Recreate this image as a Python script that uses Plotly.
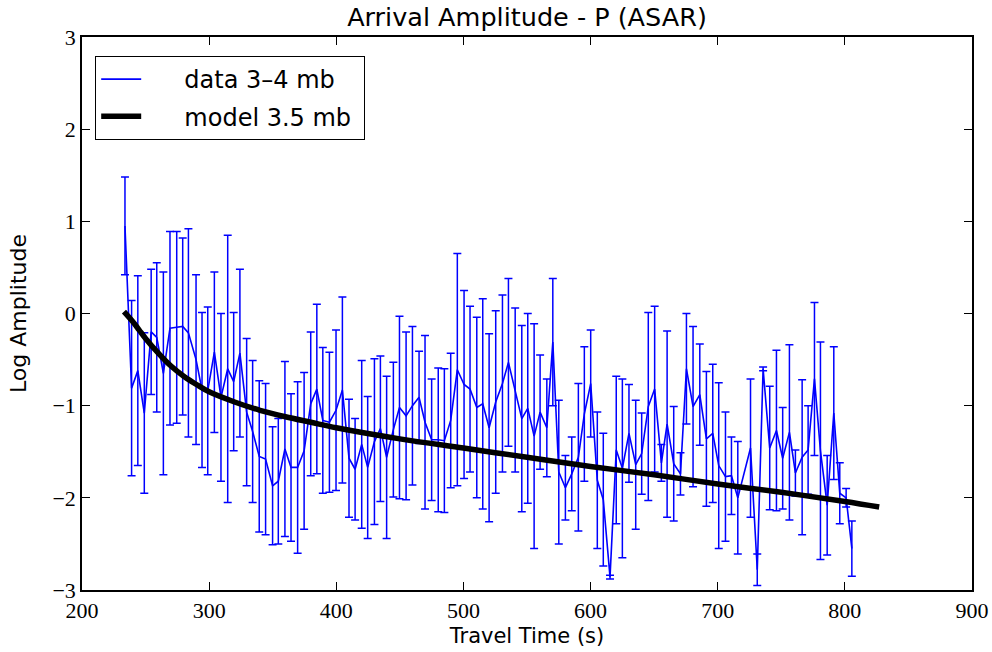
import plotly.graph_objects as go

# Travel time bins (s)
travel_time = [233.8, 239.0, 243.9, 249.0, 254.4, 258.8, 264.0, 269.2, 274.5, 279.2,
               283.7, 289.7, 294.4, 298.9, 304.1, 309.3, 314.6, 319.3, 324.2, 329.5,
               334.2, 339.4, 344.4, 349.9, 354.4, 359.6, 364.4, 369.6, 374.7, 379.9,
               384.7, 389.4, 394.6, 399.8, 404.8, 410.0, 414.8, 420.0, 424.7, 430.0,
               434.7, 439.6, 444.9, 449.7, 454.9, 459.9, 465.1, 469.8, 475.0, 480.2,
               485.0, 490.0, 495.2, 500.5, 505.2, 510.5, 515.2, 520.2, 525.4, 530.7,
               535.4, 540.7, 545.9, 550.6, 555.6, 560.3, 565.6, 570.3, 575.0, 580.2,
               585.2, 590.4, 595.1, 600.1, 605.3, 610.0, 615.3, 620.2, 625.0, 630.2,
               635.5, 640.2, 645.4, 650.4, 655.7, 660.2, 665.4, 670.7, 675.4, 680.6,
               685.9, 691.1, 696.1, 700.8, 706.1, 710.8, 715.8, 725.8, 731.1, 735.7,
               740.9, 746.2, 751.1, 756.4, 761.1, 766.4, 771.1, 776.1, 780.8, 786.1,
               791.3, 796.0, 801.0, 805.5]

# Mean log amplitude per bin
log_amp = [0.95, -0.81, -0.62, -1.08, -0.20, -0.26, -0.65, -0.16, -0.15, -0.14,
           -0.21, -0.50, -0.83, -0.84, -0.42, -0.91, -0.60, -0.74, -0.43, -1.07,
           -1.28, -1.55, -1.58, -1.87, -1.82, -1.47, -1.67, -1.67, -1.49, -0.98,
           -0.82, -1.16, -1.18, -1.05, -0.83, -1.57, -1.69, -1.42, -1.67, -1.39,
           -1.25, -1.56, -1.26, -1.02, -1.11, -1.00, -0.91, -1.18, -1.37, -1.37,
           -1.38, -1.16, -0.61, -0.77, -0.82, -1.02, -0.98, -1.24, -0.96, -0.76,
           -0.53, -0.83, -1.14, -1.03, -1.33, -1.07, -1.24, -0.31, -1.72, -1.89,
           -1.74, -1.56, -1.09, -0.76, -1.81, -2.02, -2.86, -1.48, -1.68, -1.30,
           -1.64, -1.52, -1.01, -0.82, -1.62, -1.20, -1.63, -1.74, -0.60, -1.01,
           -0.88, -1.36, -1.30, -1.65, -1.77, -1.76, -2.00, -1.46, -2.78, -0.60,
           -1.46, -1.27, -1.57, -1.29, -1.73, -1.56, -1.48, -0.71, -1.49, -2.08,
           -1.08, -1.95, -2.00, -2.55]

# Standard deviation per bin
log_amp_err = [0.53, 0.95, 1.03, 0.87, 0.68, 0.81, 1.10, 1.05, 1.04, 0.96,
               1.13, 0.92, 0.84, 0.91, 0.87, 0.91, 1.45, 0.75, 0.91, 0.80,
               0.77, 0.82, 0.82, 0.64, 0.68, 0.95, 0.80, 0.93, 0.85, 0.78,
               0.92, 0.79, 0.76, 0.87, 1.01, 0.64, 0.55, 0.91, 0.77, 0.90,
               0.79, 0.88, 0.73, 0.99, 0.91, 0.86, 0.50, 0.94, 0.66, 0.78,
               0.78, 0.73, 1.26, 1.02, 0.90, 0.98, 1.14, 1.02, 0.99, 0.96,
               0.91, 0.89, 1.01, 1.03, 1.22, 0.62, 0.53, 0.69, 0.78, 0.35,
               0.40, 0.80, 0.73, 0.58, 0.74, 0.72, 0.02, 0.80, 0.97, 0.53,
               0.70, 0.44, 1.02, 0.90, 0.20, 1.01, 0.62, 0.23, 0.60, 0.87,
               0.55, 0.73, 0.75, 0.90, 0.70, 0.42, 0.61, 0.75, 0.17, 0.02,
               0.67, 0.87, 0.55, 0.95, 0.25, 0.84, 0.48, 0.83, 1.18, 0.54,
               0.72, 0.33, 0.10, 0.30]

# Model curve (3.5 mb)
model_time = [233, 240, 245, 250, 260, 270, 280, 290, 300, 320, 340, 360, 380, 400,
              450, 500, 550, 600, 650, 700, 750, 800, 827]
model_amp = [0.02, -0.09, -0.18, -0.27, -0.43, -0.57, -0.68, -0.77, -0.85, -0.96,
             -1.05, -1.12, -1.18, -1.24, -1.36, -1.46, -1.56, -1.66, -1.75, -1.85,
             -1.94, -2.04, -2.10]

x_ticks = [200, 300, 400, 500, 600, 700, 800, 900]
y_ticks = [-3, -2, -1, 0, 1, 2, 3]

BLUE = "#0000ff"
SANS = "DejaVu Sans"
SERIF = "Liberation Serif"
PAD = "\u00a0" * 5

fig = go.Figure()
fig.add_trace(go.Scatter(
    x=travel_time, y=log_amp, mode="lines", name=PAD + "data 3\u20134 mb",
    line=dict(color=BLUE, width=1.6),
    error_y=dict(type="data", array=log_amp_err, symmetric=True,
                 color=BLUE, thickness=1.5, width=4),
    legendgroup="a",
))
fig.add_trace(go.Scatter(
    x=model_time, y=model_amp, mode="lines", name=PAD + "model 3.5 mb\u00a0",
    line=dict(color="black", width=5.5, shape="spline"),
    legendgroup="b",
))

axis_common = dict(
    showline=True, linecolor="black", linewidth=1.5, mirror="ticks",
    ticks="inside", ticklen=8, tickwidth=1, tickcolor="black",
    showgrid=False, zeroline=False,
    tickfont=dict(family=SERIF, size=22, color="black"),
)

fig.update_layout(
    width=992, height=652,
    paper_bgcolor="white", plot_bgcolor="white",
    margin=dict(l=82, r=20, t=37, b=62, autoexpand=False),
    title=dict(text="Arrival Amplitude - P (ASAR)", x=0.5, xref="paper",
               y=1 - 17 / 652, yref="container", yanchor="middle",
               font=dict(family=SANS, size=25.5, color="black")),
    xaxis=dict(range=[200, 900], tickvals=x_ticks,
               title=dict(text="Travel Time (s)", standoff=6,
                          font=dict(family=SANS, size=21, color="black")),
               **axis_common),
    yaxis=dict(range=[-3, 3], tickvals=y_ticks,
               title=dict(text="Log Amplitude", standoff=20,
                          font=dict(family=SANS, size=22, color="black")),
               **axis_common),
    legend=dict(x=0.0146, y=0.966, xanchor="left", yanchor="top",
                bordercolor="black", borderwidth=1.2, bgcolor="white",
                font=dict(family=SANS, size=24, color="black"),
                traceorder="grouped", tracegroupgap=3, itemwidth=40),
    showlegend=True,
)

fig.write_html("out.html")
